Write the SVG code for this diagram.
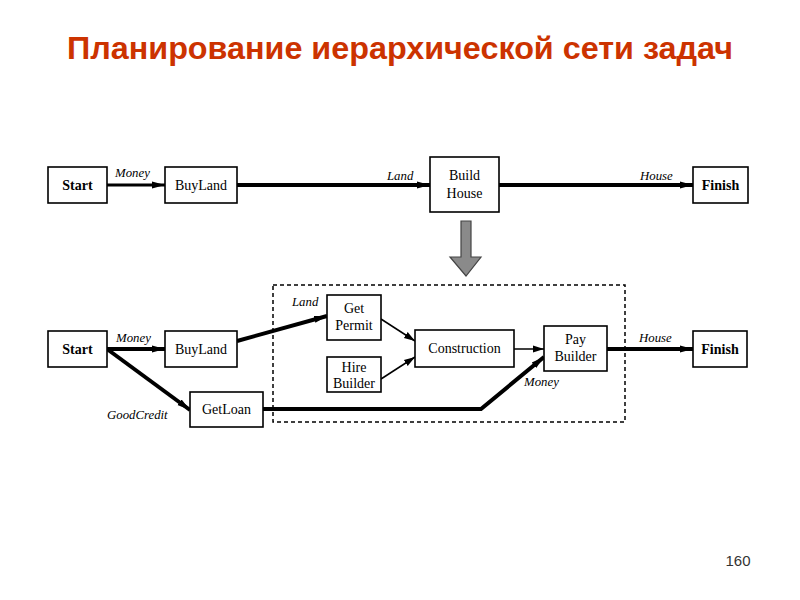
<svg xmlns="http://www.w3.org/2000/svg" width="800" height="600" viewBox="0 0 800 600">
<defs>
<style>
.box{fill:#fff;stroke:#000;stroke-width:1.6}
.lbl{font-family:"Liberation Serif",serif;font-size:14px;fill:#000;text-anchor:middle}
.b{font-weight:bold}
.el{font-family:"Liberation Serif",serif;font-size:12.8px;font-style:italic;fill:#000}
.thin{stroke:#000;stroke-width:1.5;fill:none}
.med{stroke:#000;stroke-width:3;fill:none}
.thick{stroke:#000;stroke-width:4;fill:none}
</style>
<marker id="ah" markerUnits="userSpaceOnUse" markerWidth="14" markerHeight="10" refX="13" refY="5" orient="auto">
<path d="M0,1.5 L13,5 L0,8.5 z" fill="#000"/>
</marker>
<marker id="ahs" markerUnits="userSpaceOnUse" markerWidth="12" markerHeight="10" refX="11" refY="5" orient="auto">
<path d="M0,1.5 L11,5 L0,8.5 z" fill="#000"/>
</marker>
</defs>
<rect width="800" height="600" fill="#fff"/>
<text x="400" y="59" text-anchor="middle" font-family="Liberation Sans,Arial,sans-serif" font-weight="bold" font-size="31" textLength="666" lengthAdjust="spacingAndGlyphs" fill="#cc3300">Планирование иерархической сети задач</text>
<text x="738" y="566" text-anchor="middle" font-family="Liberation Sans,Arial,sans-serif" font-size="15" fill="#333">160</text>

<g id="connectors">
<line class="med" x1="107" y1="185" x2="165" y2="185" marker-end="url(#ah)"/>
<line class="thick" x1="237" y1="185" x2="430" y2="185" marker-end="url(#ah)"/>
<line class="thick" x1="499" y1="185" x2="693" y2="185" marker-end="url(#ah)"/>
<line class="thick" x1="107" y1="349" x2="165" y2="349" marker-end="url(#ah)"/>
<line class="thick" x1="107" y1="349" x2="190" y2="410" marker-end="url(#ah)"/>
<line class="thick" x1="237" y1="341" x2="327" y2="316" marker-end="url(#ah)"/>
<line class="thin" x1="381" y1="319" x2="415" y2="341" marker-end="url(#ahs)"/>
<line class="thin" x1="381" y1="379" x2="415" y2="357" marker-end="url(#ahs)"/>
<line class="thin" x1="514" y1="349" x2="544" y2="349" marker-end="url(#ahs)"/>
<polyline class="thick" points="263,409 481,409 544,357" marker-end="url(#ah)"/>
<line class="thick" x1="607" y1="349" x2="693" y2="349" marker-end="url(#ah)"/>
<text class="el" x="115" y="177">Money</text>
<text class="el" x="387" y="180">Land</text>
<text class="el" x="640" y="180">House</text>
<text class="el" x="116" y="342">Money</text>
<text class="el" x="292" y="306">Land</text>
<text class="el" x="107" y="419">GoodCredit</text>
<text class="el" x="524" y="386">Money</text>
<text class="el" x="639" y="342">House</text>
</g>

<rect x="273" y="285" width="352" height="137" fill="none" stroke="#000" stroke-width="1.5" stroke-dasharray="4,3"/>

<g id="refine-arrow">
<path d="M461,221 L471,221 L471,257 L481,257 L466,276 L450,257 L461,257 z" fill="#8a8a8a" stroke="#444" stroke-width="1.2"/>
</g>

<g id="start1"><rect class="box" x="48" y="167" width="59" height="36"/><text class="lbl b" x="77.5" y="190">Start</text></g>
<g id="buyland1"><rect class="box" x="165" y="167" width="72" height="36"/><text class="lbl" x="201" y="190">BuyLand</text></g>
<g id="buildhouse"><rect class="box" x="430" y="157" width="69" height="55"/><text class="lbl" x="464.5" y="180">Build</text><text class="lbl" x="464.5" y="198">House</text></g>
<g id="finish1"><rect class="box" x="693" y="167" width="55" height="36"/><text class="lbl b" x="720.5" y="190">Finish</text></g>

<g id="start2"><rect class="box" x="48" y="331" width="59" height="36"/><text class="lbl b" x="77.5" y="354">Start</text></g>
<g id="buyland2"><rect class="box" x="165" y="331" width="72" height="36"/><text class="lbl" x="201" y="354">BuyLand</text></g>
<g id="getloan"><rect class="box" x="190" y="392" width="73" height="35"/><text class="lbl" x="226.5" y="414">GetLoan</text></g>
<g id="getpermit"><rect class="box" x="327" y="295" width="54" height="45"/><text class="lbl" x="354" y="313">Get</text><text class="lbl" x="354" y="330">Permit</text></g>
<g id="hirebuilder"><rect class="box" x="327" y="357" width="54" height="35"/><text class="lbl" x="354" y="372">Hire</text><text class="lbl" x="354" y="388">Builder</text></g>
<g id="construction"><rect class="box" x="415" y="330" width="99" height="37"/><text class="lbl" x="464.5" y="353">Construction</text></g>
<g id="paybuilder"><rect class="box" x="544" y="326" width="63" height="45"/><text class="lbl" x="575.5" y="344">Pay</text><text class="lbl" x="575.5" y="361">Builder</text></g>
<g id="finish2"><rect class="box" x="693" y="331" width="54" height="36"/><text class="lbl b" x="720" y="354">Finish</text></g>
</svg>
